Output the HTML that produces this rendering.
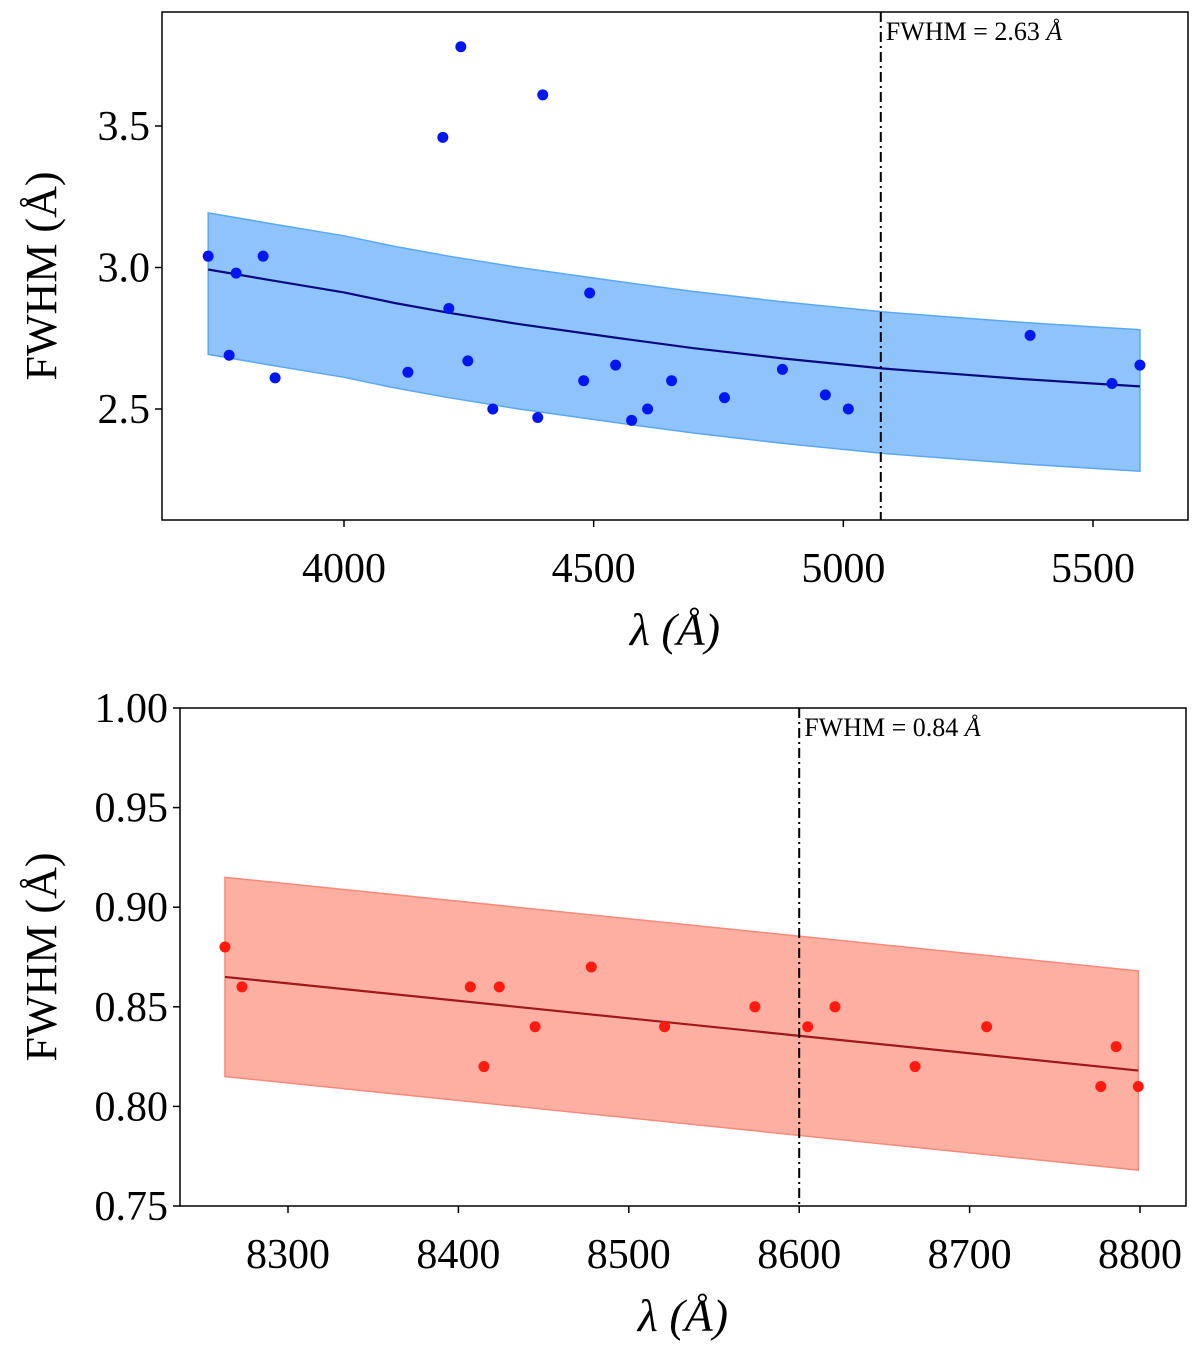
<!DOCTYPE html>
<html><head><meta charset="utf-8"><style>
html,body{margin:0;padding:0;background:#fff;}
svg{display:block;font-family:"Liberation Serif",serif;}
</style></head><body>
<svg id="chart" width="1200" height="1355" xmlns="http://www.w3.org/2000/svg"></svg>
<script>
// ---- Top panel data ----
const topLam = [3728,3770,3784,3838,3862,4128,4198,4210,4234,4248,4298,4388,4398,4480,4492,4544,4576,4608,4656,4762,4878,4964,5010,5374,5538,5594];
const topFwhm = [3.04,2.69,2.98,3.04,2.61,2.63,3.46,2.855,3.78,2.67,2.50,2.47,3.61,2.60,2.91,2.655,2.46,2.50,2.60,2.54,2.64,2.55,2.50,2.76,2.59,2.655];
const topFitLam = [3728,3850,4000,4100,4210,4350,4552,4700,4882,5080,5200,5350,5500,5594];
const topFitVal = [2.993,2.956,2.912,2.875,2.840,2.80,2.750,2.715,2.678,2.643,2.627,2.607,2.59,2.58];
const topBandUp = 0.2;
const topBandDn = 0.3;
const topVline = 5075;
const topXTicks = [4000,4500,5000,5500];
const topYTicks = [2.5,3.0,3.5];
const topYLabels = ["2.5","3.0","3.5"];
// ---- Bottom panel data ----
const botLam = [8263,8273,8407,8415,8424,8445,8478,8521,8574,8605,8621,8668,8710,8777,8786,8799];
const botFwhm = [0.880,0.860,0.860,0.820,0.860,0.840,0.870,0.840,0.850,0.840,0.850,0.820,0.840,0.810,0.830,0.810];
const botFitLam = [8263,8799];
const botFitVal = [0.865,0.818];
const botBandUp = 0.05;
const botBandDn = 0.05;
const botVline = 8600;
const botXTicks = [8300,8400,8500,8600,8700,8800];
const botYTicks = [0.75,0.80,0.85,0.90,0.95,1.00];
const botYLabels = ["0.75","0.80","0.85","0.90","0.95","1.00"];

const NS="http://www.w3.org/2000/svg";
const svg=document.getElementById('chart');
function mk(tag,attrs,parent){const e=document.createElementNS(NS,tag);for(const k in attrs)e.setAttribute(k,attrs[k]);(parent||svg).appendChild(e);return e;}

function panel(cfg){
  const g=mk('g',{});
  
  
  const X=v=>cfg.px0+(v-cfg.xv0)*(cfg.px1-cfg.px0)/(cfg.xv1-cfg.xv0);
  const Y=v=>cfg.py0+(v-cfg.yv0)*(cfg.py1-cfg.py0)/(cfg.yv1-cfg.yv0);
  let up=cfg.fitLam.map((l,i)=>X(l)+','+Y(cfg.fitVal[i]+cfg.bandUp));
  let dn=cfg.fitLam.map((l,i)=>X(l)+','+Y(cfg.fitVal[i]-cfg.bandDn)).reverse();
  const band=mk('polygon',{points:up.concat(dn).join(' '),fill:cfg.bandFill,stroke:cfg.bandStroke,'stroke-width':1.5},g);
  
  
  const line=mk('polyline',{points:cfg.fitLam.map((l,i)=>X(l)+','+Y(cfg.fitVal[i])).join(' '),fill:'none',stroke:cfg.lineColor,'stroke-width':2.2,'stroke-linejoin':'round'},g);
  
  
  cfg.lam.forEach((l,i)=>{
    const c=mk('circle',{cx:X(l),cy:Y(cfg.fwhm[i]),r:5.5,fill:cfg.dotColor},g);
    
    
  });
  const vl=mk('line',{x1:X(cfg.vline),x2:X(cfg.vline),y1:cfg.boxT,y2:cfg.boxB,stroke:'#000','stroke-width':2,'stroke-dasharray':'10,4,2,4'},g);
  
  
  const vt=mk('text',{x:X(cfg.vline)+5,y:cfg.boxT+28,'font-size':26},g);
  vt.textContent=cfg.vtext;
  const it=mk('tspan',{'font-style':'italic'},vt);
  it.textContent='Å';
  
  
  const box=mk('rect',{x:cfg.boxL,y:cfg.boxT,width:cfg.boxR-cfg.boxL,height:cfg.boxB-cfg.boxT,fill:'none',stroke:'#000','stroke-width':1.5},g);
  
  
  cfg.xt.forEach(t=>{
    mk('line',{x1:X(t),x2:X(t),y1:cfg.boxB,y2:cfg.boxB+7,stroke:'#000','stroke-width':1.5},g);
    const tx=mk('text',{x:X(t),y:cfg.boxB+62,'font-size':42,'text-anchor':'middle'},g);
    tx.textContent=t;
    
    
  });
  cfg.yt.forEach((t,i)=>{
    mk('line',{x1:cfg.boxL-7,x2:cfg.boxL,y1:Y(t),y2:Y(t),stroke:'#000','stroke-width':1.5},g);
    const tx=mk('text',{x:cfg.boxL-12,y:Y(t)+14,'font-size':42,'text-anchor':'end'},g);
    tx.textContent=cfg.yl[i];
    
    
  });
  const xl=mk('text',{x:(cfg.boxL+cfg.boxR)/2,y:cfg.boxB+125,'font-size':46,'text-anchor':'middle','font-style':'italic'},g);
  xl.textContent='λ (Å)';
  
  
  const cy=(cfg.boxT+cfg.boxB)/2+cfg.ylOff;
  const yl=mk('text',{x:0,y:0,'font-size':44,'text-anchor':'middle',transform:`translate(${cfg.ylx},${cy}) rotate(-90)`},g);
  yl.textContent='FWHM (Å)';
  
  
}

panel({name:'top-panel',lam:topLam,fwhm:topFwhm,fitLam:topFitLam,fitVal:topFitVal,bandUp:topBandUp,bandDn:topBandDn,vline:topVline,
  xt:topXTicks,yt:topYTicks,yl:topYLabels,px0:344,px1:1093,xv0:4000,xv1:5500,py0:409,py1:126,yv0:2.5,yv1:3.5,
  boxL:162,boxR:1188,boxT:12,boxB:520,bandFill:'#8ec4fb',bandStroke:'#5aa8f5',lineColor:'#0a0a80',dotColor:'#0016f0',
  vtext:'FWHM = 2.63 ',ylx:56,ylOff:10});
panel({name:'bottom-panel',lam:botLam,fwhm:botFwhm,fitLam:botFitLam,fitVal:botFitVal,bandUp:botBandUp,bandDn:botBandDn,vline:botVline,
  xt:botXTicks,yt:botYTicks,yl:botYLabels,px0:288,px1:1140,xv0:8300,xv1:8800,py0:1206,py1:708,yv0:0.75,yv1:1.00,
  boxL:180,boxR:1186,boxT:708,boxB:1206,bandFill:'#fdafa2',bandStroke:'#f88a7a',lineColor:'#a01818',dotColor:'#ff1a10',
  vtext:'FWHM = 0.84 ',ylx:56,ylOff:0});
</script>
</body></html>
